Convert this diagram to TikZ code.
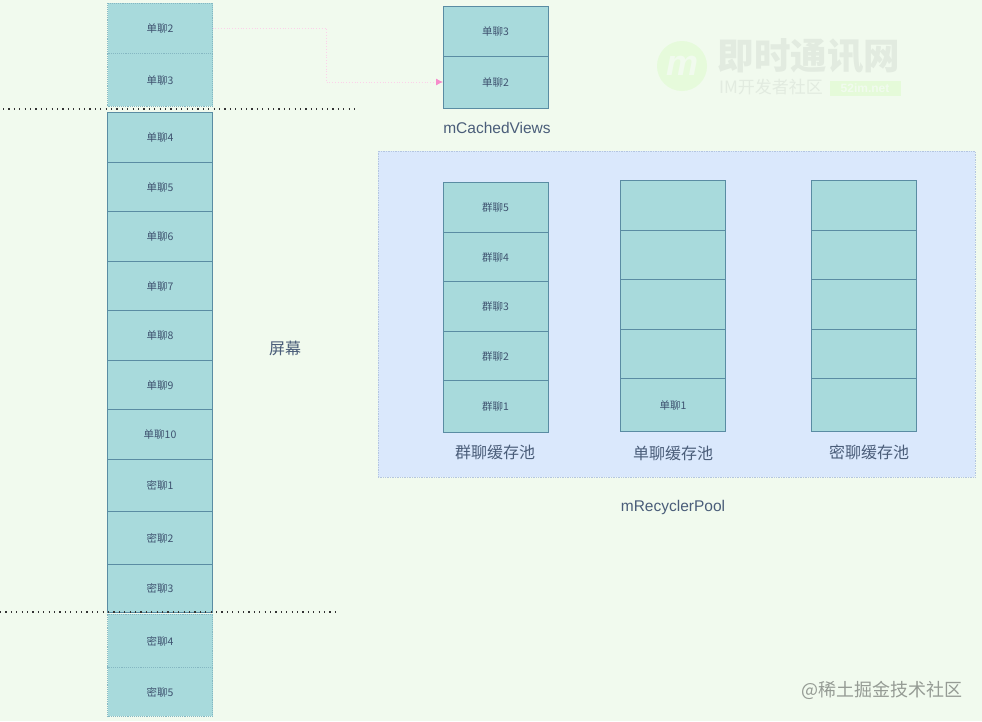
\documentclass[tikz,border=0pt]{standalone}
\usepackage{fontspec}
\usepackage{xcolor}
\setmainfont{Noto Sans CJK SC}
\newfontfamily\latinfont{Liberation Sans}
\usetikzlibrary{arrows.meta, positioning}
\definecolor{pagebg}{HTML}{F1FAEE}
\definecolor{cellfill}{HTML}{A8DADC}
\definecolor{celldraw}{HTML}{5A8CA3}
\definecolor{inktext}{HTML}{1D3557}
\definecolor{poolfill}{HTML}{DAE8FC}
\definecolor{pooldraw}{HTML}{B4C6E0}

\begin{document}
\begin{tikzpicture}[
    x=1pt, y=-1pt,
    cell/.style={rectangle, draw=celldraw, fill=cellfill, line width=0.9pt, outer sep=0pt, inner sep=0pt, minimum width=105pt, text=inktext!85, text height=9.6pt, text depth=0pt, font=\fontsize{10.5}{12}\selectfont},
    ghost/.style={cell, draw=celldraw!45!cellfill, densely dotted},
    caption/.style={text=inktext!80, inner sep=0pt, font=\fontsize{16}{18}\selectfont},
    latincap/.style={text=inktext!80, inner sep=0pt, font=\fontsize{15.5}{18}\selectfont\latinfont},
    pool/.style={rectangle, draw=pooldraw, fill=poolfill, densely dotted, line width=0.7pt, inner sep=0pt, outer sep=0pt},
    cutline/.style={black!80, line width=1.2pt, dash pattern=on 1.2pt off 4.2pt},
    movearrow/.style={-{Latex[length=7pt,width=7pt,color=magenta!45]}, draw=magenta!18, dotted, line width=0.8pt},
    markfade/.style={inner sep=0pt, text=black!6!pagebg}
]

\useasboundingbox (0,0) rectangle (982,721);
\fill[pagebg] (0,0) rectangle (982,721);

% Watermark: top right
\node[circle, fill=green!45!lime!8!pagebg, minimum size=50pt, inner sep=0pt] (logo) at (682,66) {\textcolor{pagebg}{\fontsize{36}{36}\selectfont\latinfont\itshape\bfseries m}};
\node[markfade, font=\fontsize{36.5}{38}\selectfont\bfseries] (brand) at (809,56) {即时通讯网};
\node[markfade, font=\fontsize{17}{18}\selectfont] (brandsub) at (771,87) {IM开发者社区};
\node[rectangle, fill=green!45!lime!9!pagebg, text=pagebg, inner sep=0pt, minimum width=71pt, minimum height=15pt, font=\fontsize{12}{13}\selectfont\latinfont\bfseries] (brandurl) at (865,88) {52im.net};

% Pool background
\node[pool, minimum width=597pt, minimum height=326pt] (poolbox) at (676.5,314) {};

% Left column: list items
\node[ghost, minimum height=50pt] (single2) at (160,28) {单聊2};
\node[ghost, minimum height=53pt, below=0pt of single2] (single3) {单聊3};
\node[cell, minimum height=50pt] (single4) at (160,137) {单聊4};
\node[cell, minimum height=49pt, below=0pt of single4] (single5) {单聊5};
\node[cell, minimum height=50pt, below=0pt of single5] (single6) {单聊6};
\node[cell, minimum height=49pt, below=0pt of single6] (single7) {单聊7};
\node[cell, minimum height=50pt, below=0pt of single7] (single8) {单聊8};
\node[cell, minimum height=49pt, below=0pt of single8] (single9) {单聊9};
\node[cell, minimum height=50pt, below=0pt of single9] (single10) {单聊10};
\node[cell, minimum height=52pt, below=0pt of single10] (secret1) {密聊1};
\node[cell, minimum height=53pt, below=0pt of secret1] (secret2) {密聊2};
\node[cell, minimum height=48pt, below=0pt of secret2] (secret3) {密聊3};
\node[ghost, minimum height=53pt] (secret4) at (160,640.5) {密聊4};
\node[ghost, minimum height=49pt, below=0pt of secret4] (secret5) {密聊5};

\node[caption] (screen) at (285,348) {屏幕};

% Cached views
\node[cell, minimum height=50pt] (cached3) at (495.5,31) {单聊3};
\node[cell, minimum height=52pt, below=0pt of cached3] (cached2) {单聊2};
\node[latincap] (cachedname) at (497,128) {mCachedViews};

% Group pool
\node[cell, minimum height=50pt] (group5) at (495.5,207) {群聊5};
\node[cell, minimum height=49pt, below=0pt of group5] (group4) {群聊4};
\node[cell, minimum height=50pt, below=0pt of group4] (group3) {群聊3};
\node[cell, minimum height=49pt, below=0pt of group3] (group2) {群聊2};
\node[cell, minimum height=52pt, below=0pt of group2] (group1) {群聊1};
\node[caption] (groupname) at (495,452) {群聊缓存池};

% Single pool
\node[cell, minimum height=50pt] (singleA) at (673,205) {};
\node[cell, minimum height=49pt, below=0pt of singleA] (singleB) {};
\node[cell, minimum height=50pt, below=0pt of singleB] (singleC) {};
\node[cell, minimum height=49pt, below=0pt of singleC] (singleD) {};
\node[cell, minimum height=53pt, below=0pt of singleD] (single1) {单聊1};
\node[caption] (singlename) at (673,453) {单聊缓存池};

% Secret pool
\node[cell, minimum height=50pt] (secretA) at (864,205) {};
\node[cell, minimum height=49pt, below=0pt of secretA] (secretB) {};
\node[cell, minimum height=50pt, below=0pt of secretB] (secretC) {};
\node[cell, minimum height=49pt, below=0pt of secretC] (secretD) {};
\node[cell, minimum height=53pt, below=0pt of secretD] (secretE) {};
\node[caption] (secretname) at (869,452) {密聊缓存池};

\node[latincap] (poolname) at (673,507) {mRecyclerPool};

% Watermark: bottom right
\node[inner sep=0pt, text=black!38!pagebg, font=\fontsize{18}{20}\selectfont] (juejin) at (882,690) {@稀土掘金技术社区};

% Screen edges
\coordinate (topL) at (3,109);
\coordinate (topR) at (355,109);
\coordinate (botL) at (0,612);
\coordinate (botR) at (336,612);
\draw[cutline] (topL) -- (topR);
\draw[cutline] (botL) -- (botR);

% Connector
\coordinate (turn) at (326,55);
\draw[movearrow] (single2.east) -| (turn) |- (cached2.west);

\end{tikzpicture}
\end{document}
